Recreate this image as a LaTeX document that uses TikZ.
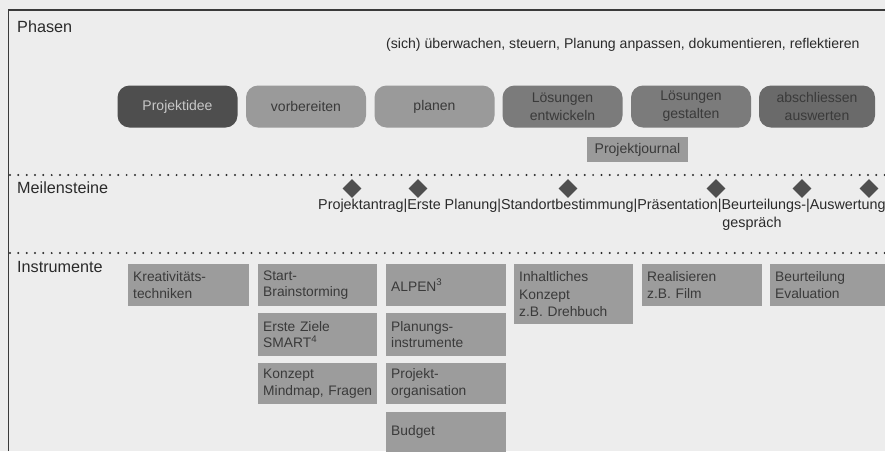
\documentclass[tikz,border=0pt]{standalone}
\usepackage{fontspec}
\setmainfont{Liberation Sans}
\usetikzlibrary{shapes.geometric}
\definecolor{paper}{HTML}{EDEDED}
\definecolor{frameline}{HTML}{3A3A3A}
\definecolor{darkpill}{HTML}{4E4E4E}
\definecolor{midpill}{HTML}{9A9A9A}
\definecolor{deeppill}{HTML}{7B7B7B}
\definecolor{lastpill}{HTML}{6A6A6A}
\definecolor{boxgray}{HTML}{9C9C9C}
\definecolor{txtdark}{HTML}{2A2A2A}
\definecolor{txtbox}{HTML}{3A3A3A}
\definecolor{txtlight}{HTML}{C8C8C8}
\definecolor{diamondgray}{HTML}{4F4F4F}
\tikzset{
  pill/.style={rounded corners=12pt, minimum width=120pt, minimum height=42pt, inner sep=2pt, align=center, text=txtbox, font=\fontsize{14}{18}\selectfont},
  tool/.style={anchor=north west, fill=boxgray, inner xsep=5pt, inner ysep=0pt, align=left, text=txtbox, font=\fontsize{13.8}{16.6}\selectfont},
  sectionlabel/.style={anchor=base west, inner sep=0pt, text=txtdark, font=\fontsize{16.2}{20}\selectfont},
  plaintext/.style={anchor=base west, inner sep=0pt, text=txtdark, font=\fontsize{14.1}{17}\selectfont},
  milestone/.style={diamond, fill=diamondgray, minimum width=19pt, minimum height=19pt, inner sep=0pt},
  dotrow/.style={line width=2.2pt, line cap=round, dash pattern=on 0pt off 8.33pt, color=txtdark},
}
\begin{document}
\begin{tikzpicture}[x=1pt,y=-1pt]
\useasboundingbox (0,0) rectangle (885,451);
\fill[paper] (0,0) rectangle (885,451);
% frame
\draw[frameline, line width=1.3pt] (8.5,451) -- (8.5,10) -- (885,10);
% dotted separators
\draw[dotrow] (10,175) -- (885,175);
\draw[dotrow] (10,253) -- (885,253);
% section labels
\node[sectionlabel] (lphasen) at (17,32) {Phasen};
\node[sectionlabel] (lmeilen) at (17,193) {Meilensteine};
\node[sectionlabel] (linstr) at (17,272) {Instrumente};
% top text
\node[plaintext] (steuern) at (386,48) {(sich) überwachen, steuern, Planung anpassen, dokumentieren, reflektieren};
% phases
\node[pill, fill=darkpill, text=txtlight] (idee) at (177.5,106.5) {Projektidee};
\node[pill, fill=midpill] (vorb) at (306,106.5) {vorbereiten};
\node[pill, fill=midpill] (plan) at (434.5,106.5) {planen};
\node[pill, fill=deeppill] (entw) at (562.5,106.5) {Lösungen\\entwickeln};
\node[pill, fill=deeppill] (gest) at (691,106.5) {Lösungen\\gestalten};
\node[pill, fill=lastpill, minimum width=116pt] (absch) at (817,106.5) {abschliessen\\auswerten};
\node[fill=midpill, minimum width=101pt, minimum height=25pt, inner sep=0pt, text=txtbox, font=\fontsize{14}{17}\selectfont] (journal) at (637.5,149.5) {Projektjournal};
% milestones
\node[milestone] (m1) at (352,188.5) {};
\node[milestone] (m2) at (418,188.5) {};
\node[milestone] (m3) at (568,188.5) {};
\node[milestone] (m4) at (716,188.5) {};
\node[milestone] (m5) at (802,188.5) {};
\node[milestone] (m6) at (869,188.5) {};
\node[plaintext, font=\fontsize{14.35}{17}\selectfont] (mtext) at (318,209) {Projektantrag|Erste Planung|Standortbestimmung|Präsentation|Beurteilungs-|Auswertung};
\node[plaintext, anchor=base, font=\fontsize{14.35}{17}\selectfont] (mtext2) at (752,227) {gespräch};
% instruments
\node[tool, text width=111pt, minimum height=42pt] (kreativ) at (128,264) {Kreativitäts-\\techniken};
\node[tool, text width=109pt, minimum height=42pt] (start) at (258,264) {Start-\\Brainstorming};
\node[tool, text width=109pt, minimum height=43pt] (ziele) at (258,313) {Erste Ziele\\SMART\textsuperscript{4}};
\node[tool, text width=109pt, minimum height=41pt] (konzept) at (258,363) {Konzept\\Mindmap, Fragen};
\node[tool, text width=110pt, minimum height=42pt] (alpen) at (386,264) {ALPEN\textsuperscript{3}};
\node[tool, text width=110pt, minimum height=43pt] (planinst) at (386,313) {Planungs-\\instrumente};
\node[tool, text width=110pt, minimum height=41pt] (orga) at (386,363) {Projekt-\\organisation};
\node[tool, text width=110pt, minimum height=40pt] (budget) at (386,412) {Budget};
\node[tool, text width=109pt, minimum height=60pt, font=\fontsize{13.8}{17.3}\selectfont] (inhalt) at (514,264) {Inhaltliches\\Konzept\\z.B. Drehbuch};
\node[tool, text width=110pt, minimum height=42pt] (real) at (642,264) {Realisieren\\z.B. Film};
\node[tool, text width=105pt, minimum height=42pt] (beurt) at (770,264) {Beurteilung\\Evaluation};
\end{tikzpicture}
\end{document}
